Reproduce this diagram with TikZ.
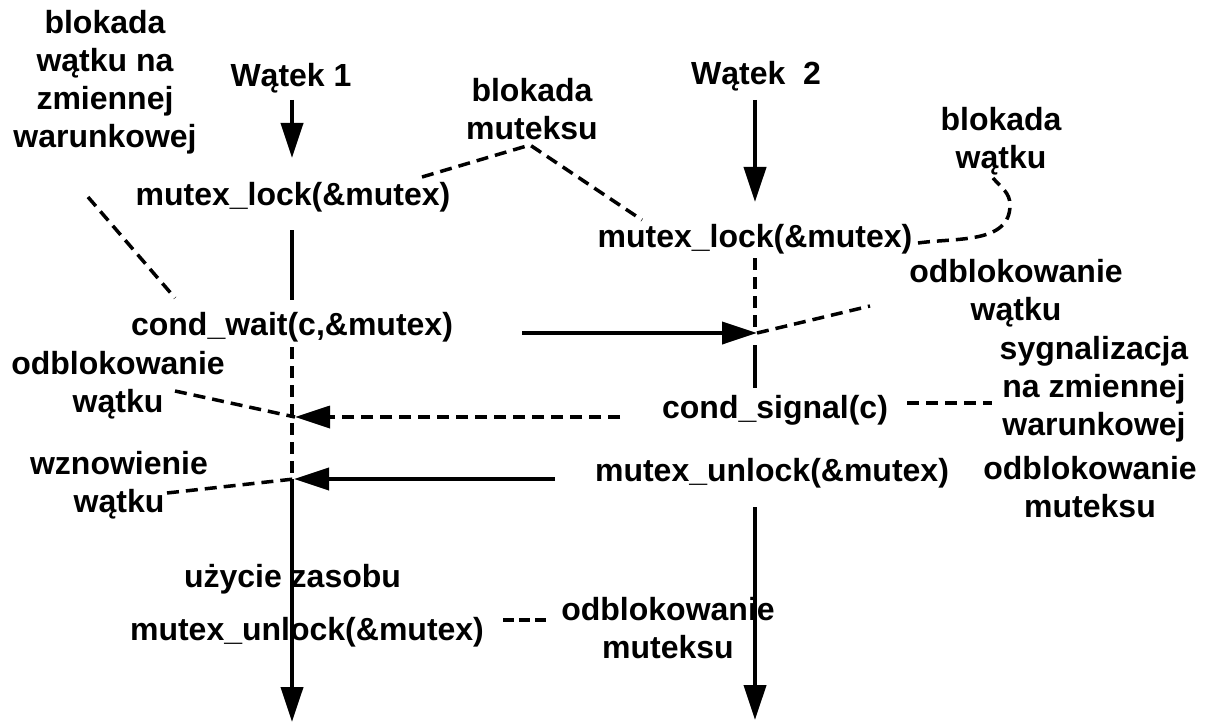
\documentclass[tikz,border=0pt]{standalone}
\usepackage{fontspec}
\setmainfont{Liberation Sans}
\usetikzlibrary{arrows.meta}
\begin{document}
\begin{tikzpicture}[x=1pt,y=-1pt,
  lbl/.style={font=\fontsize{32}{38}\selectfont\bfseries, inner sep=0pt, align=center},
  ln/.style={line width=4pt},
  dsh/.style={line width=3.5pt, dash pattern=on 12pt off 7pt},
  tip/.style={-{Triangle[length=35pt,width=22pt]}}]
\fill[white] (0,0) rectangle (1206,722);
\useasboundingbox (0,0) rectangle (1206,722);

% labels
\node[lbl] (blokL) at (105,82) {blokada\\wątku na\\zmiennej\\warunkowej};
\node[lbl,anchor=base] (w1) at (291,87) {Wątek 1};
\node[lbl,anchor=base] (ml1) at (293,205) {mutex\_lock(\&mutex)};
\node[lbl] (blokM) at (532,109) {blokada\\muteksu};
\node[lbl,anchor=base] (w2) at (756,85) {Wątek\ \ 2};
\node[lbl,anchor=base] (ml2) at (755,247) {mutex\_lock(\&mutex)};
\node[lbl] (blokW) at (1001,141) {blokada\\wątku};
\node[lbl] (odbW2) at (1016,293) {odblokowanie\\wątku};
\node[lbl,anchor=base] (cw) at (292,335) {cond\_wait(c,\&mutex)};
\node[lbl] (odbW1) at (118,385) {odblokowanie\\wątku};
\node[lbl] (wzn) at (119,485) {wznowienie\\wątku};
\node[lbl,anchor=base] (cs) at (775,418) {cond\_signal(c)};
\node[lbl] (syg) at (1094,389) {sygnalizacja\\na zmiennej\\warunkowej};
\node[lbl,anchor=base] (mu2) at (772,481) {mutex\_unlock(\&mutex)};
\node[lbl] (odbM2) at (1090,487) {odblokowanie\\muteksu};
\node[lbl,anchor=base] (uz) at (292.5,587) {użycie zasobu};
\node[lbl,anchor=base] (mu1) at (307,640) {mutex\_unlock(\&mutex)};
\node[lbl] (odbM1) at (668,628) {odblokowanie\\muteksu};

% coordinates on thread 1 (x=292)
\coordinate (a1s) at (292,100);
\coordinate (a1e) at (292,158);
\coordinate (s1a) at (292,230);
\coordinate (s1b) at (292,300);
\coordinate (d1a) at (292,347);
\coordinate (d1b) at (292,479);
\coordinate (e1) at (292,722);
\coordinate (hit1) at (295,417);
\coordinate (hit2) at (294,479);
% coordinates on thread 2 (x=755)
\coordinate (a2s) at (755,100);
\coordinate (a2e) at (755,202);
\coordinate (d2a) at (755,258);
\coordinate (d2b) at (755,333);
\coordinate (s2a) at (755,345);
\coordinate (s2b) at (755,388);
\coordinate (s2c) at (755,507);
\coordinate (e2) at (755,720);
\coordinate (hit3) at (757,333);
% arrow starts
\coordinate (f3) at (522,333);
\coordinate (f1) at (620,417);
\coordinate (f2) at (555,479);
% leader ends
\coordinate (l1a) at (88,197);
\coordinate (l1b) at (175,298);
\coordinate (l2a) at (175,391);
\coordinate (l3a) at (167,493);
\coordinate (l4b) at (870,306);
\coordinate (l5a) at (422,177);
\coordinate (l5m) at (530,145);
\coordinate (l5b) at (642,220);
\coordinate (l6a) at (918,243);
\coordinate (l6m) at (1010,205);
\coordinate (l6b) at (993,178);
\coordinate (l7a) at (907,403);
\coordinate (l7b) at (992,403);
\coordinate (l8a) at (503,620);
\coordinate (l8b) at (550,620);

% thread 1
\draw[ln,tip] (a1s) -- (a1e);
\draw[ln] (s1a) -- (s1b);
\draw[dsh] (d1a) -- (d1b);
\draw[ln,tip] (d1b) -- (e1);
% thread 2
\draw[ln,tip] (a2s) -- (a2e);
\draw[dsh] (d2a) -- (d2b);
\draw[ln] (s2a) -- (s2b);
\draw[ln,tip] (s2c) -- (e2);
% horizontal arrows
\draw[ln,tip] (f3) -- (hit3);
\draw[dsh,tip] (f1) -- (hit1);
\draw[ln,tip] (f2) -- (hit2);
% leaders
\draw[dsh] (l1a) -- (l1b);
\draw[dsh] (l2a) -- (hit1);
\draw[dsh] (l3a) -- (hit2);
\draw[dsh] (hit3) -- (l4b);
\draw[dsh] (l5a) -- (l5m) -- (l5b);
\draw[dsh] (l6a) to[out=8,in=-90] (l6m) to[out=90,in=-50] (l6b);
\draw[dsh] (l7a) -- (l7b);
\draw[line width=3.5pt, dash pattern=on 11pt off 5pt] (l8a) -- (l8b);
\end{tikzpicture}
\end{document}
